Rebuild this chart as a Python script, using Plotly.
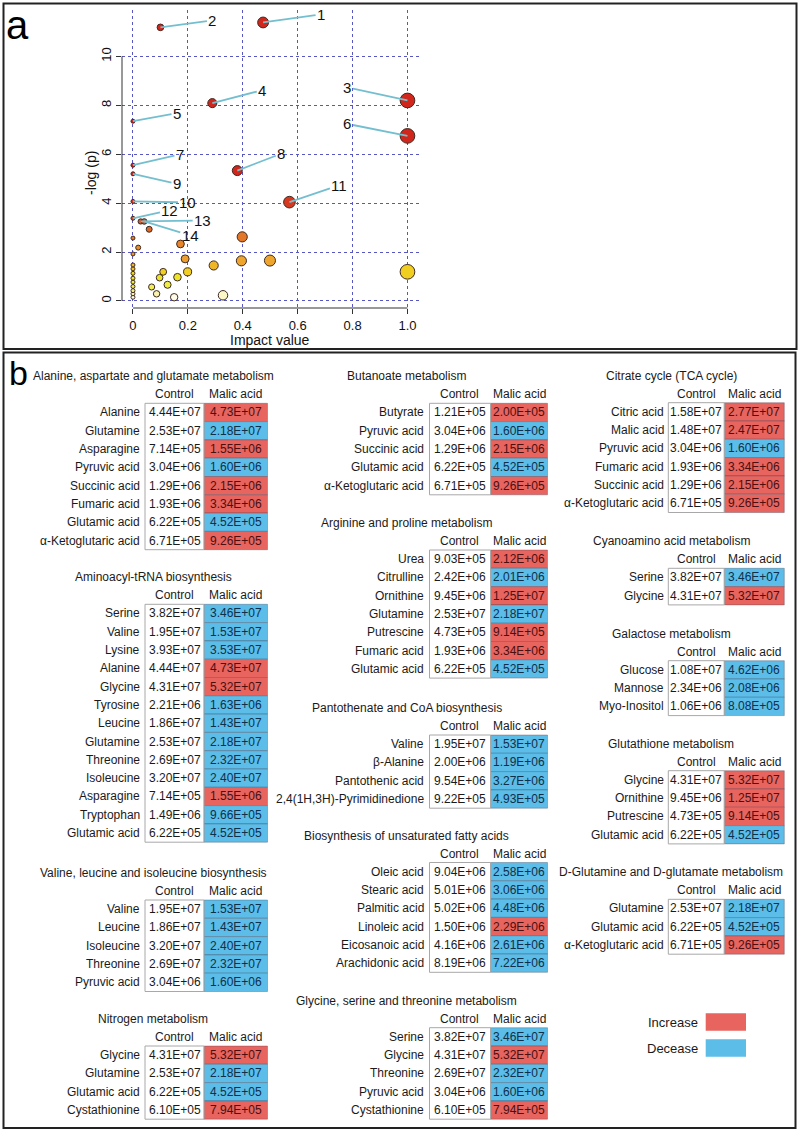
import plotly.graph_objects as go

W, H = 800, 1133

# ---------------- panel a data ----------------
impact = [0.474, 0.10, 1.0, 0.289, 0.0, 1.0, 0.0, 0.38, 0.0, 0.0, 0.57, 0.0, 0.028, 0.041,
          0.059, 0.0, 0.019, 0.173, 0.398, 0.0, 0.19, 0.294, 0.395, 0.499, 1.0, 0.11, 0.097,
          0.162, 0.199, 0.126, 0.068, 0.086, 0.15, 0.328,
          0.0, 0.0, 0.0, 0.0, 0.0, 0.0, 0.0, 0.0, 0.0]
neglogp = [11.39, 11.19, 8.2, 8.09, 7.35, 6.75, 5.55, 5.33, 5.2, 4.07, 4.04, 3.38, 3.25, 3.25,
           2.93, 2.57, 2.18, 2.33, 2.62, 1.92, 1.72, 1.45, 1.64, 1.65, 1.19, 1.19, 0.95,
           0.97, 1.19, 0.66, 0.57, 0.29, 0.15, 0.23,
           1.47, 1.31, 1.13, 0.93, 0.77, 0.59, 0.42, 0.29, 0.15]
point_labels = ["1", "2", "3", "4", "5", "6", "7", "8", "9", "10", "11", "12", "13", "14"]

x_ticks = [0, 0.2, 0.4, 0.6, 0.8, 1.0]
x_ticktext = ["0", "0.2", "0.4", "0.6", "0.8", "1.0"]
y_ticks = [0, 2, 4, 6, 8, 10]
y_ticktext = ["0", "2", "4", "6", "8", "10"]

# ---------------- panel b data ----------------
ala_names = ["Alanine", "Glutamine", "Asparagine", "Pyruvic acid", "Succinic acid", "Fumaric acid",
             "Glutamic acid", "α-Ketoglutaric acid"]
ala_control = [4.44e7, 2.53e7, 7.14e5, 3.04e6, 1.29e6, 1.93e6, 6.22e5, 6.71e5]
ala_malic = [4.73e7, 2.18e7, 1.55e6, 1.60e6, 2.15e6, 3.34e6, 4.52e5, 9.26e5]

amino_names = ["Serine", "Valine", "Lysine", "Alanine", "Glycine", "Tyrosine", "Leucine", "Glutamine",
               "Threonine", "Isoleucine", "Asparagine", "Tryptophan", "Glutamic acid"]
amino_control = [3.82e7, 1.95e7, 3.93e7, 4.44e7, 4.31e7, 2.21e6, 1.86e7, 2.53e7, 2.69e7, 3.20e7,
                 7.14e5, 1.49e6, 6.22e5]
amino_malic = [3.46e7, 1.53e7, 3.53e7, 4.73e7, 5.32e7, 1.63e6, 1.43e7, 2.18e7, 2.32e7, 2.40e7,
               1.55e6, 9.66e5, 4.52e5]

val_names = ["Valine", "Leucine", "Isoleucine", "Threonine", "Pyruvic acid"]
val_control = [1.95e7, 1.86e7, 3.20e7, 2.69e7, 3.04e6]
val_malic = [1.53e7, 1.43e7, 2.40e7, 2.32e7, 1.60e6]

nit_names = ["Glycine", "Glutamine", "Glutamic acid", "Cystathionine"]
nit_control = [4.31e7, 2.53e7, 6.22e5, 6.10e5]
nit_malic = [5.32e7, 2.18e7, 4.52e5, 7.94e5]

but_names = ["Butyrate", "Pyruvic acid", "Succinic acid", "Glutamic acid", "α-Ketoglutaric acid"]
but_control = [1.21e5, 3.04e6, 1.29e6, 6.22e5, 6.71e5]
but_malic = [2.00e5, 1.60e6, 2.15e6, 4.52e5, 9.26e5]

arg_names = ["Urea", "Citrulline", "Ornithine", "Glutamine", "Putrescine", "Fumaric acid", "Glutamic acid"]
arg_control = [9.03e5, 2.42e6, 9.45e6, 2.53e7, 4.73e5, 1.93e6, 6.22e5]
arg_malic = [2.12e6, 2.01e6, 1.25e7, 2.18e7, 9.14e5, 3.34e6, 4.52e5]

pan_names = ["Valine", "β-Alanine", "Pantothenic acid", "2,4(1H,3H)-Pyrimidinedione"]
pan_control = [1.95e7, 2.00e6, 9.54e6, 9.22e5]
pan_malic = [1.53e7, 1.19e6, 3.27e6, 4.93e5]

ufa_names = ["Oleic acid", "Stearic acid", "Palmitic acid", "Linoleic acid", "Eicosanoic acid",
             "Arachidonic acid"]
ufa_control = [9.04e6, 5.01e6, 5.02e6, 1.50e6, 4.16e6, 8.19e6]
ufa_malic = [2.58e6, 3.06e6, 4.48e6, 2.29e6, 2.61e6, 7.22e6]

gly_names = ["Serine", "Glycine", "Threonine", "Pyruvic acid", "Cystathionine"]
gly_control = [3.82e7, 4.31e7, 2.69e7, 3.04e6, 6.10e5]
gly_malic = [3.46e7, 5.32e7, 2.32e7, 1.60e6, 7.94e5]

tca_names = ["Citric acid", "Malic acid", "Pyruvic acid", "Fumaric acid", "Succinic acid",
             "α-Ketoglutaric acid"]
tca_control = [1.58e7, 1.48e7, 3.04e6, 1.93e6, 1.29e6, 6.71e5]
tca_malic = [2.77e7, 2.47e7, 1.60e6, 3.34e6, 2.15e6, 9.26e5]

cya_names = ["Serine", "Glycine"]
cya_control = [3.82e7, 4.31e7]
cya_malic = [3.46e7, 5.32e7]

gal_names = ["Glucose", "Mannose", "Myo-Inositol"]
gal_control = [1.08e7, 2.34e6, 1.06e6]
gal_malic = [4.62e6, 2.08e6, 8.08e5]

gsh_names = ["Glycine", "Ornithine", "Putrescine", "Glutamic acid"]
gsh_control = [4.31e7, 9.45e6, 4.73e5, 6.22e5]
gsh_malic = [5.32e7, 1.25e7, 9.14e5, 4.52e5]

dgl_names = ["Glutamine", "Glutamic acid", "α-Ketoglutaric acid"]
dgl_control = [2.53e7, 6.22e5, 6.71e5]
dgl_malic = [2.18e7, 4.52e5, 9.26e5]

header_labels = ["Control", "Malic acid"]
legend_labels = ["Increase", "Decease"]

# ---------------- styling / layout ----------------
FONT = "Liberation Sans Narrow, Arial Narrow, Liberation Sans, Arial, sans-serif"
FONT_REG = "Liberation Sans, Arial, Helvetica, sans-serif"
RED = "#E7645F"
BLUE = "#5BBDE8"
TXT = "#1a1a1a"
GRID = "#5656c4"
LBL_LINE = "#74bfcf"

label_offsets = [(58, -8), (52, -7), (-60, -13), (50, -13), (44, -8), (-60, -12), (47, -11),
                 (44, -17), (44, 10), (55, 1), (50, -17), (37, -8), (62, -1), (46, 14)]

columns = {
    1: dict(name_r=142.0, c=(145.0, 204.0), m=(204.0, 267.5), tc=153.0),
    2: dict(name_r=426.5, c=(429.5, 490.5), m=(490.5, 547.5), tc=406.7),
    3: dict(name_r=666.0, c=(668.3, 724.3), m=(724.3, 784.3), tc=671.0),
}
ROW_H = 18.3

tables = [
    ("Alanine, aspartate and glutamate metabolism", 1, 403.3, ala_names, ala_control, ala_malic),
    ("Aminoacyl-tRNA biosynthesis", 1, 604.3, amino_names, amino_control, amino_malic),
    ("Valine, leucine and isoleucine biosynthesis", 1, 900.0, val_names, val_control, val_malic),
    ("Nitrogen metabolism", 1, 1046.0, nit_names, nit_control, nit_malic),
    ("Butanoate metabolism", 2, 403.3, but_names, but_control, but_malic),
    ("Arginine and proline metabolism", 2, 550.0, arg_names, arg_control, arg_malic),
    ("Pantothenate and CoA biosynthesis", 2, 735.0, pan_names, pan_control, pan_malic),
    ("Biosynthesis of unsaturated fatty acids", 2, 862.5, ufa_names, ufa_control, ufa_malic),
    ("Glycine, serine and threonine metabolism", 2, 1027.7, gly_names, gly_control, gly_malic),
    ("Citrate cycle (TCA cycle)", 3, 402.7, tca_names, tca_control, tca_malic),
    ("Cyanoamino acid metabolism", 3, 568.3, cya_names, cya_control, cya_malic),
    ("Galactose metabolism", 3, 660.7, gal_names, gal_control, gal_malic),
    ("Glutathione metabolism", 3, 770.7, gsh_names, gsh_control, gsh_malic),
    ("D-Glutamine and D-glutamate metabolism", 3, 899.3, dgl_names, dgl_control, dgl_malic),
]


def px(x):
    return x / W


def py(y):
    return 1 - y / H


def fmt(v):
    return f"{v:.2E}"


fig = go.Figure()

# ---------------- panel a scatter ----------------
sizes = [4 + 10.7 * (v ** 0.6) for v in impact]
colorscale = [
    [0.0, "#ffffff"], [0.033, "#fffde8"], [0.067, "#f8f2a8"], [0.133, "#f0ee50"],
    [0.222, "#ece420"], [0.278, "#f2c820"], [0.378, "#eca030"], [0.511, "#e8862a"],
    [0.644, "#dc6a28"], [0.733, "#d85428"], [0.889, "#d83a1e"], [1.0, "#d0261c"],
]
order = sorted(range(len(impact)), key=lambda i: neglogp[i])
fig.add_trace(go.Scatter(
    x=[impact[i] for i in order], y=[neglogp[i] for i in order], mode="markers",
    marker=dict(size=[sizes[i] for i in order], color=[neglogp[i] for i in order],
                colorscale=colorscale, cmin=0, cmax=4.5, opacity=1,
                line=dict(color="#3e2a22", width=1)),
    hoverinfo="x+y", showlegend=False,
))

annotations = []
shapes = []

for i, lab in enumerate(point_labels):
    ax, ay = label_offsets[i]
    annotations.append(dict(
        x=impact[i], y=neglogp[i], xref="x", yref="y", text=lab, showarrow=True,
        ax=ax, ay=ay, arrowhead=0, arrowwidth=1.8, arrowcolor=LBL_LINE, standoff=0,
        font=dict(family=FONT_REG, size=15, color="#111"),
    ))

shapes.append(dict(type="line", xref="x domain", yref="y", x0=0, x1=0,
                   y0=min(y_ticks), y1=max(y_ticks), line=dict(color="#333", width=1)))
shapes.append(dict(type="line", xref="x", yref="y domain", x0=min(x_ticks), x1=max(x_ticks),
                   y0=0, y1=0, line=dict(color="#333", width=1)))

annotations.append(dict(x=px(270), y=py(340), xref="paper", yref="paper", text="Impact value",
                        showarrow=False, font=dict(family=FONT_REG, size=14, color="#111"),
                        xanchor="center", yanchor="middle"))
annotations.append(dict(x=px(91), y=py(173), xref="paper", yref="paper", text="-log (p)",
                        showarrow=False, textangle=-90,
                        font=dict(family=FONT_REG, size=14, color="#111"),
                        xanchor="center", yanchor="middle"))

annotations.append(dict(x=px(17), y=py(25), xref="paper", yref="paper", text="a", showarrow=False,
                        font=dict(family=FONT_REG, size=40, color="#000"),
                        xanchor="center", yanchor="middle"))
annotations.append(dict(x=px(18), y=py(373), xref="paper", yref="paper", text="b", showarrow=False,
                        font=dict(family=FONT_REG, size=34, color="#000"),
                        xanchor="center", yanchor="middle"))

shapes.append(dict(type="rect", xref="paper", yref="paper", x0=px(3.5), x1=px(796.5),
                   y0=py(3.5), y1=py(349), line=dict(color="#222", width=2)))
shapes.append(dict(type="rect", xref="paper", yref="paper", x0=px(3.5), x1=px(795.5),
                   y0=py(352.5), y1=py(1128), line=dict(color="#222", width=2)))

# ---------------- panel b tables ----------------
TF = 12
for title, col, top, names, ctrl, mal in tables:
    c = columns[col]
    n = len(names)
    annotations.append(dict(x=px(c["tc"]), y=py(top - 27), xref="paper", yref="paper", text=title,
                            showarrow=False, xanchor="center", yanchor="middle",
                            font=dict(family=FONT, size=TF, color=TXT)))
    for k, hl in enumerate(header_labels):
        lo, hi = c["c"] if k == 0 else c["m"]
        annotations.append(dict(x=px((lo + hi) / 2), y=py(top - 9), xref="paper", yref="paper",
                                text=hl, showarrow=False, xanchor="center", yanchor="middle",
                                font=dict(family=FONT, size=TF, color=TXT)))
    for r in range(n):
        y0 = top + r * ROW_H
        ym = y0 + ROW_H / 2
        up = mal[r] > ctrl[r]
        shapes.append(dict(type="rect", xref="paper", yref="paper", x0=px(c["m"][0]), x1=px(c["m"][1]),
                           y0=py(y0), y1=py(y0 + ROW_H), fillcolor=RED if up else BLUE,
                           line=dict(color="rgba(70,70,90,0.35)", width=1), layer="below"))
        annotations.append(dict(x=px(c["name_r"]), y=py(ym), xref="paper", yref="paper",
                                text=names[r], showarrow=False, xanchor="right", yanchor="middle",
                                font=dict(family=FONT, size=TF, color=TXT)))
        annotations.append(dict(x=px((c["c"][0] + c["c"][1]) / 2), y=py(ym), xref="paper",
                                yref="paper", text=fmt(ctrl[r]), showarrow=False,
                                xanchor="center", yanchor="middle",
                                font=dict(family=FONT, size=TF, color=TXT)))
        annotations.append(dict(x=px((c["m"][0] + c["m"][1]) / 2), y=py(ym), xref="paper",
                                yref="paper", text=fmt(mal[r]), showarrow=False,
                                xanchor="center", yanchor="middle",
                                font=dict(family=FONT, size=TF,
                                          color="#4a1010" if up else "#0f2f4a")))
    shapes.append(dict(type="rect", xref="paper", yref="paper", x0=px(c["c"][0]), x1=px(c["c"][1]),
                       y0=py(top), y1=py(top + n * ROW_H), line=dict(color="#a8a8a8", width=1),
                       fillcolor="rgba(0,0,0,0)"))

for k, (lab, colr) in enumerate(zip(legend_labels, [RED, BLUE])):
    yc = 1022.0 + k * 26.0
    annotations.append(dict(x=px(700), y=py(yc), xref="paper", yref="paper", text=lab,
                            showarrow=False, xanchor="right", yanchor="middle",
                            font=dict(family=FONT, size=13, color=TXT)))
    shapes.append(dict(type="rect", xref="paper", yref="paper", x0=px(705.7), x1=px(746),
                       y0=py(yc - 8.7), y1=py(yc + 8.7), fillcolor=colr, line=dict(width=0)))

fig.update_layout(
    width=W, height=H, margin=dict(l=0, r=0, t=0, b=0),
    paper_bgcolor="white", plot_bgcolor="white",
    xaxis=dict(domain=[122 / W, 419 / W], range=[-0.04, 1.042], tickvals=x_ticks,
               ticktext=x_ticktext, ticks="outside", ticklen=5, tickcolor="#333",
               showgrid=True, gridcolor=GRID, griddash="dot", gridwidth=1,
               zeroline=False, showline=False,
               tickfont=dict(family=FONT_REG, size=13, color="#111")),
    yaxis=dict(domain=[1 - 308 / H, 1 - 10 / H], range=[-0.29, 11.9], tickvals=y_ticks,
               ticktext=y_ticktext, tickangle=-90, ticks="outside", ticklen=5, tickcolor="#333",
               showgrid=True, gridcolor=GRID, griddash="dot", gridwidth=1,
               zeroline=False, showline=False,
               tickfont=dict(family=FONT_REG, size=13, color="#111")),
    annotations=annotations, shapes=shapes,
)

fig.write_html("out.html", config={"displayModeBar": False},
               post_script="document.body.style.margin='0';document.body.style.overflow='hidden';")
